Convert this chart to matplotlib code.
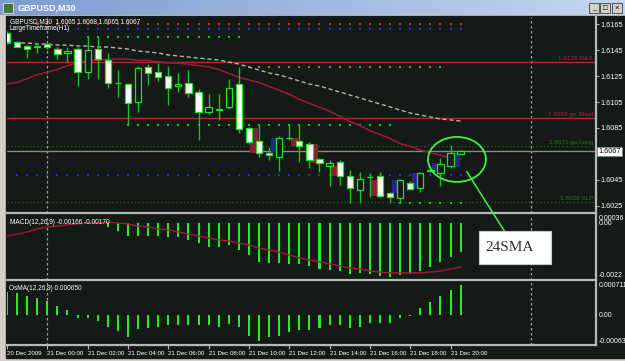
import numpy as np
import matplotlib.pyplot as plt
import matplotlib.transforms as mtransforms
from matplotlib.patches import Rectangle, Ellipse
from matplotlib.lines import Line2D
from matplotlib.colors import LinearSegmentedColormap

plt.rcParams['font.family'] = ['Liberation Sans', 'DejaVu Sans']

W, H = 625, 361
DARK = '#141a16'
FRAME = '#b8b8b8'

# === Price bars (GBPUSD M30, 20 Dec 22:00 .. 21 Dec 20:30) ===
opens = [1.6158, 1.6151, 1.6148, 1.6147, 1.6150, 1.6146, 1.6143, 1.6146, 1.6128, 1.6146,
         1.6137, 1.6120, 1.6119, 1.6105, 1.6132, 1.6128, 1.6125, 1.6117, 1.6120, 1.6113,
         1.6097, 1.6099, 1.6101, 1.6119, 1.6085, 1.6075, 1.6066, 1.6063, 1.6077, 1.6075,
         1.6073, 1.6061, 1.6056, 1.6059, 1.6048, 1.6037, 1.6047, 1.6048, 1.6035, 1.6031,
         1.6043, 1.6039, 1.6052, 1.6050, 1.6056, 1.6065]
highs = [1.6160, 1.6152, 1.6149, 1.6149, 1.6151, 1.6147, 1.6147, 1.6147, 1.6155, 1.6155,
         1.6143, 1.6130, 1.6120, 1.6133, 1.6134, 1.6135, 1.6133, 1.6127, 1.6130, 1.6115,
         1.6111, 1.6111, 1.6123, 1.6132, 1.6086, 1.6087, 1.6070, 1.6079, 1.6087, 1.6087,
         1.6074, 1.6062, 1.6060, 1.6060, 1.6053, 1.6051, 1.6050, 1.6051, 1.6036, 1.6046,
         1.6044, 1.6051, 1.6056, 1.6062, 1.6072, 1.6068]
lows = [1.6150, 1.6147, 1.6139, 1.6143, 1.6146, 1.6138, 1.6136, 1.6117, 1.6123, 1.6123,
        1.6116, 1.6109, 1.6087, 1.6097, 1.6118, 1.6121, 1.6103, 1.6113, 1.6109, 1.6076,
        1.6096, 1.6091, 1.6100, 1.6081, 1.6073, 1.6063, 1.6060, 1.6052, 1.6076, 1.6059,
        1.6054, 1.6051, 1.6040, 1.6041, 1.6027, 1.6027, 1.6032, 1.6032, 1.6027, 1.6027,
        1.6037, 1.6036, 1.6051, 1.6040, 1.6054, 1.6065]
closes = [1.6151, 1.6147, 1.6146, 1.6148, 1.6147, 1.6142, 1.6144, 1.6128, 1.6145, 1.6138,
          1.6120, 1.6120, 1.6104, 1.6131, 1.6127, 1.6124, 1.6116, 1.6119, 1.6112, 1.6097,
          1.6101, 1.6100, 1.6116, 1.6084, 1.6074, 1.6066, 1.6064, 1.6077, 1.6077, 1.6071,
          1.6060, 1.6058, 1.6058, 1.6048, 1.6039, 1.6046, 1.6047, 1.6033, 1.6032, 1.6045,
          1.6038, 1.6050, 1.6053, 1.6057, 1.6066, 1.6067]

# moving averages
sma24 = [1.6119, 1.6120, 1.6123, 1.6126, 1.6128, 1.6130, 1.6133, 1.6135, 1.6137, 1.6137,
         1.6138, 1.6138, 1.6138, 1.6137, 1.6137, 1.6136, 1.6135, 1.6135, 1.6134, 1.6133,
         1.6132, 1.6130, 1.6127, 1.6124, 1.6122, 1.6120, 1.6117, 1.6114, 1.6111, 1.6107,
         1.6104, 1.6101, 1.6098, 1.6094, 1.6090, 1.6087, 1.6083, 1.6080, 1.6077, 1.6073,
         1.6071, 1.6068, 1.6066, 1.6064, 1.6062, 1.6061]
slow_ma = [1.61504, 1.61504, 1.61504, 1.61496, 1.61496, 1.61488, 1.61488, 1.61481, 1.61481, 1.61473,
           1.61473, 1.61465, 1.61458, 1.61442, 1.61435, 1.61427, 1.61412, 1.61404, 1.61396, 1.61388,
           1.61381, 1.61373, 1.61358, 1.61342, 1.61319, 1.61296, 1.61273, 1.61258, 1.61235, 1.61212,
           1.61188, 1.61173, 1.61150, 1.61127, 1.61104, 1.61081, 1.61058, 1.61035, 1.61012, 1.60988,
           1.60965, 1.60950, 1.60935, 1.60919, 1.60912, 1.60904]

# LargeTimeframe(H1) dotted levels
dot_levels = [1.6165, 1.6161, 1.6155, 1.6132, 1.6087, 1.6049, 1.6027]
dot_first = [3, 3, 8, 24, 12, 1, 39]
dot_last = [45, 45, 23, 43, 38, 45, 45]
dot_colors = ['#e02828', '#2c2ce0', '#22c022', '#22c022', '#22c022', '#2c2ce0', '#22c022']

# shaded boxes behind some candles
box_bars = [24, 26, 28, 30, 32, 36, 38, 40, 42, 44]
box_hi = [1.6085, 1.6077, 1.6077, 1.6073, 1.6056, 1.6045, 1.6045, 1.6050, 1.6058, 1.6066]
box_lo = [1.6066, 1.6066, 1.6071, 1.6058, 1.6048, 1.6033, 1.6035, 1.6039, 1.6051, 1.6055]
box_kind = ['r', 'b', 'r', 'r', 'r', 'r', 'b', 'b', 'b', 'b']

# manual levels
level_prices = [1.6136, 1.6093, 1.6071, 1.6028]
level_texts = ['1.6136 R&S', '1.6093 go Short', '1.6071 go Long', '1.6028 SLP']
current_price = 1.6067

price_ticks = [1.6165, 1.6145, 1.6125, 1.6105, 1.6085, 1.6045, 1.6025]

# MACD(12,26,9): histogram from bar 10, signal for all bars
macd_hist = [-0.00015, -0.00032, -0.00053, -0.00053, -0.00053, -0.00053, -0.00057, -0.00057,
             -0.00070, -0.00083, -0.00100, -0.00100, -0.00091, -0.00113, -0.00134, -0.00163,
             -0.00168, -0.00168, -0.00172, -0.00172, -0.00180, -0.00193, -0.00197, -0.00202,
             -0.00214, -0.00210, -0.00214, -0.00223, -0.00227, -0.00219, -0.00214, -0.00202,
             -0.00185, -0.00163, -0.00142, -0.00121]
macd_signal = [-0.00053, -0.00045, -0.00036, -0.00023, -0.00015, -0.00011, -0.00006, -0.00002,
               0.00002, 0.00002, 0.00006, 0.00002, -0.00002, -0.00011, -0.00015, -0.00023,
               -0.00028, -0.00036, -0.00045, -0.00053, -0.00062, -0.00070, -0.00074, -0.00083,
               -0.00091, -0.00104, -0.00113, -0.00121, -0.00134, -0.00146, -0.00155, -0.00163,
               -0.00172, -0.00180, -0.00189, -0.00193, -0.00202, -0.00206, -0.00210, -0.00210,
               -0.00210, -0.00210, -0.00206, -0.00202, -0.00193, -0.00185]

# OsMA(12,26,9)
osma = [0.00050, 0.00048, 0.00041, 0.00037, 0.00031, 0.00020, 0.00012, -0.00006, -0.00006, -0.00012,
        -0.00025, -0.00033, -0.00046, -0.00029, -0.00027, -0.00025, -0.00020, -0.00020, -0.00020, -0.00020,
        -0.00020, -0.00025, -0.00018, -0.00025, -0.00044, -0.00055, -0.00046, -0.00044, -0.00035, -0.00031,
        -0.00031, -0.00027, -0.00020, -0.00020, -0.00027, -0.00025, -0.00016, -0.00016, -0.00016, -0.00006,
        -0.00002, 0.00016, 0.00029, 0.00041, 0.00054, 0.00065]

time_ticks = [0, 4, 8, 12, 16, 20, 24, 28, 32, 36, 40, 44]
time_labels = ['20 Dec 2009', '21 Dec 00:00', '21 Dec 02:00', '21 Dec 04:00', '21 Dec 06:00',
               '21 Dec 08:00', '21 Dec 10:00', '21 Dec 12:00', '21 Dec 14:00', '21 Dec 16:00',
               '21 Dec 18:00', '21 Dec 20:00']
day_breaks = [4, 52]

# === Figure / window chrome ===
fig = plt.figure(figsize=(W / 100, H / 100), dpi=100, facecolor='#d4d0c8')


def px_axes(x0, y0, x1, y1):
    return fig.add_axes([x0 / W, 1 - y1 / H, (x1 - x0) / W, (y1 - y0) / H])


def fx(x):
    return x / W


def fy(y):
    return 1 - y / H


fig.patches.append(Rectangle((fx(6), fy(358)), (W - 6) / W, (358 - 16) / H,
                             transform=fig.transFigure, color=DARK, zorder=-5))

title_ax = px_axes(0, 0, W, 15)
grad = np.linspace(0, 1, 256).reshape(1, -1)
title_ax.imshow(grad, aspect='auto', cmap=LinearSegmentedColormap.from_list('t', ['#7e9acf', '#c4d6f0']))
title_ax.axis('off')
fig.patches.append(Rectangle((fx(3), fy(13)), 10 / W, 10 / H, transform=fig.transFigure,
                             facecolor='#3a7a3a', edgecolor='#e0e0e0', lw=0.6, zorder=2))
fig.text(fx(18), fy(7.5), 'GBPUSD,M30', color='white', fontsize=6.5, fontweight='bold', va='center')
for bx, sym in zip([589, 600, 612], ['_', '□', '×']):
    fig.patches.append(Rectangle((fx(bx), fy(13)), 10 / W, 10 / H, transform=fig.transFigure,
                                 facecolor='#d4d0c8', edgecolor='#404040', lw=0.6, zorder=2))
    fig.text(fx(bx + 5), fy(8), sym, fontsize=5.5, ha='center', va='center', color='black', zorder=3)

# === Panels ===
ax = px_axes(7, 17, 596, 213)
ax_macd = px_axes(7, 215, 596, 280)
ax_osma = px_axes(7, 282, 596, 345)

for a in (ax, ax_macd, ax_osma):
    a.set_facecolor(DARK)
    a.set_xlim(0, 58.43)
    for s in ('top', 'left'):
        a.spines[s].set_visible(False)
    for s in ('right', 'bottom'):
        a.spines[s].set_color(FRAME)
        a.spines[s].set_linewidth(1.6)
    a.yaxis.tick_right()
    a.tick_params(axis='y', colors=FRAME, labelcolor='white', labelsize=5.2, length=2, pad=1.5)
    a.tick_params(axis='x', bottom=False, labelbottom=False)
    for d in day_breaks:
        a.axvline(d, color='#a0a0a0', lw=0.9, ls=(0, (2, 2)), zorder=1)

bars = np.arange(len(closes))

# --- main chart ---
ax.set_ylim(1.60196, 1.61704)
ax.set_yticks(price_ticks)
ax.set_yticklabels([f'{p:.4f}' for p in price_ticks])

for lvl, a_, b_, c in zip(dot_levels, dot_first, dot_last, dot_colors):
    xs = np.arange(a_, b_ + 1)
    ax.scatter(xs, np.full(len(xs), lvl), marker='s', s=3.0, color=c, linewidths=0, zorder=2)

trans_r = mtransforms.blended_transform_factory(ax.transAxes, ax.transData)
for p, t in zip(level_prices, level_texts):
    if 'Long' in t or 'SLP' in t:
        ax.axhline(p, color='#1d6a1d', lw=0.9, ls=(0, (1, 2)), zorder=1)
        col = '#1f7a1f'
    else:
        ax.axhline(p, color='#b42a1e', lw=1.0, zorder=1)
        col = '#d8143c'
    ax.text(0.995, p + 0.00006, t, transform=trans_r, ha='right', va='bottom',
            fontsize=4.6, color=col, zorder=2)
ax.axhline(current_price, color='#8a8a8a', lw=1.0, zorder=1)
ax.text(1.004, current_price, f'{current_price:.4f}', transform=trans_r, fontsize=5.2,
        color='black', va='center', ha='left', zorder=6,
        bbox=dict(facecolor='white', edgecolor='#808080', pad=0.6, lw=0.5), clip_on=False)

ax.plot(bars, slow_ma, color='#b4b4a8', lw=1.0, ls=(0, (3, 2)), zorder=2)
ax.plot(bars, sma24, color='#a3183c', lw=1.1, zorder=2)

for b, hi, lo, k in zip(box_bars, box_hi, box_lo, box_kind):
    ax.add_patch(Rectangle((b + 0.15, lo), 0.75, hi - lo, facecolor='#8e1c34' if k == 'r' else '#25258a',
                           edgecolor='none', zorder=2.5))

ax.vlines(bars, lows, highs, color='#1fbf1f', lw=1.0, zorder=3)
bull = [c >= o for o, c in zip(opens, closes)]
bottoms = [min(o, c) for o, c in zip(opens, closes)]
heights = [abs(c - o) for o, c in zip(opens, closes)]
ax.bar(bars, heights, bottom=bottoms, width=0.62,
       color=[DARK if u else 'white' for u in bull], edgecolor='#22e022', lw=0.9, zorder=4)

ax.text(0.005, 0.975, 'GBPUSD,M30  1.6065 1.6068 1.6065 1.6067', transform=ax.transAxes,
        fontsize=4.7, color='white', va='center', zorder=7)
ax.text(0.005, 0.94, 'LargeTimeframe(H1)', transform=ax.transAxes,
        fontsize=4.7, color='white', va='center', zorder=7)

# green ellipse around the last bars
ax.add_patch(Ellipse((44.64, 1.60608), 5.75, 0.00346, fill=False, edgecolor='#44f044', lw=1.3, zorder=8))

# --- MACD ---
ax_macd.set_ylim(-0.00240, 0.00036)
ax_macd.set_yticks([])
hb = np.arange(10, 10 + len(macd_hist))
ax_macd.bar(hb, macd_hist, width=0.2, color='#22ee22', zorder=3)
ax_macd.plot(bars, macd_signal, color='#a3183c', lw=1.0, zorder=4)
trm = mtransforms.blended_transform_factory(ax_macd.transAxes, ax_macd.transData)
ax_macd.text(1.004, 0.00036, '0.00036', transform=trm, fontsize=5, color='white', va='top', clip_on=False)
ax_macd.text(1.004, 0.0, '0.00', transform=trm, fontsize=5, color='white', va='center', clip_on=False)
ax_macd.text(1.004, -0.0022, '-0.0022', transform=trm, fontsize=5, color='white', va='center', clip_on=False)
ax_macd.text(0.005, 0.88, 'MACD(12,26,9) -0.00166 -0.00170', transform=ax_macd.transAxes,
             fontsize=4.7, color='white', va='center', zorder=7)

# --- OsMA ---
ax_osma.set_ylim(-0.00063, 0.000711)
ax_osma.set_yticks([])
ax_osma.bar(bars, osma, width=0.2, color='#22ee22', zorder=3)
tro = mtransforms.blended_transform_factory(ax_osma.transAxes, ax_osma.transData)
ax_osma.text(1.004, 0.000711, '0.000711', transform=tro, fontsize=5, color='white', va='top', clip_on=False)
ax_osma.text(1.004, 0.0, '0.00', transform=tro, fontsize=5, color='white', va='center', clip_on=False)
ax_osma.text(1.004, -0.00063, '-0.00063', transform=tro, fontsize=5, color='white', va='bottom', clip_on=False)
ax_osma.text(0.003, 0.89, 'OsMA(12,26,9) 0.000650', transform=ax_osma.transAxes,
             fontsize=4.7, color='white', va='center', zorder=7)

ax_osma.set_xticks(time_ticks)
ax_osma.set_xticklabels(time_labels)
ax_osma.tick_params(axis='x', bottom=True, labelbottom=True, colors=FRAME, labelcolor='white',
                    labelsize=4.4, length=3, pad=1.2)
for lab in ax_osma.get_xticklabels():
    lab.set_ha('left')

# === 24SMA callout ===
fig.add_artist(Line2D([fx(467), fx(505)], [fy(172), fy(232)], transform=fig.transFigure,
                      color='#44f044', lw=1.1, zorder=20))
fig.add_artist(Rectangle((fx(479), fy(264)), 72 / W, 33 / H, transform=fig.transFigure,
                         facecolor='white', edgecolor='#c8c8c8', lw=0.8, zorder=21))
fig.text(fx(485), fy(247.5), '24SMA', fontsize=11, family='Liberation Serif', color='#303030',
         va='center', zorder=22)

fig.savefig('out.png', dpi=100, facecolor=fig.get_facecolor())
